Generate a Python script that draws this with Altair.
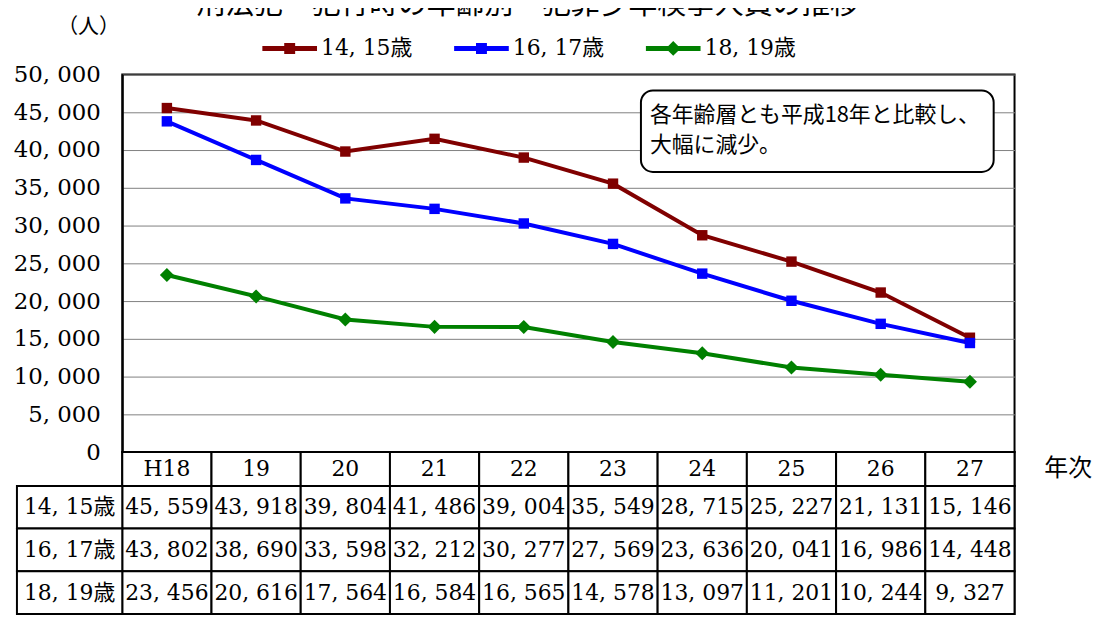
import altair as alt
import pandas as pd

# ---------------- data ----------------
years = ["H18", "19", "20", "21", "22", "23", "24", "25", "26", "27"]
series = ["14, 15歳", "16, 17歳", "18, 19歳"]
v1415 = [45559, 43918, 39804, 41486, 39004, 35549, 28715, 25227, 21131, 15146]
v1617 = [43802, 38690, 33598, 32212, 30277, 27569, 23636, 20041, 16986, 14448]
v1819 = [23456, 20616, 17564, 16584, 16565, 14578, 13097, 11201, 10244, 9327]
colors = ["#800000", "#0000FF", "#008000"]
y_ticks = [0, 5000, 10000, 15000, 20000, 25000, 30000, 35000, 40000, 45000, 50000]

title_text = "刑法犯　犯行時の年齢別　犯罪少年検挙人員の推移"
unit_text = "（人）"
note_text = "各年齢層とも平成18年と比較し、\n大幅に減少。"
xaxis_text = "年次"

SERIF = "DejaVu Serif, Noto Sans CJK JP"
SANS = "Noto Sans CJK JP"

rows = []
for s, vals in zip(series, [v1415, v1617, v1819]):
    for i, (yr, v) in enumerate(zip(years, vals)):
        rows.append(dict(series=s, year=yr, idx=i, value=v,
                         label=f"{v:,}".replace(",", ", ")))
df = pd.DataFrame(rows)
hdf = pd.DataFrame({"year": years, "label": years})

# ---------------- top chart ----------------
xs = alt.Scale(type="point", domain=years, padding=0.5)
ys = alt.Scale(domain=[0, 50000], nice=False)
cs = alt.Scale(domain=series, range=colors)

x_enc = alt.X("year:N", scale=xs,
              axis=alt.Axis(labels=False, ticks=False, title=None, grid=False,
                            domainWidth=3, domainColor="black"))
y_enc = alt.Y("value:Q", scale=ys,
              axis=alt.Axis(values=y_ticks,
                            labelExpr="replace(format(datum.value, ','), ',', ', ')",
                            labelFont="DejaVu Serif", labelFontSize=23,
                            labelColor="black", labelPadding=22,
                            ticks=False, tickSize=0, domainWidth=2,
                            domainColor="black", grid=True,
                            gridColor="#808080", gridWidth=1, title=None))

base = alt.Chart(df).encode(x=x_enc, y=y_enc)

lines = base.mark_line(strokeWidth=4).encode(
    color=alt.Color("series:N", scale=cs, legend=None),
    order=alt.Order("idx:Q"))

squares = base.mark_point(filled=True, opacity=1, shape="square", size=110).encode(
    color=alt.Color("series:N", scale=cs, legend=None)
).transform_filter(alt.datum.series != series[2])

diamonds = base.mark_point(filled=True, opacity=1, shape="diamond", size=200).encode(
    color=alt.Color("series:N", scale=cs, legend=None)
).transform_filter(alt.datum.series == series[2])

sq_path = "M-1,-0.09H1V0.09H-1Z M-0.2,-0.2H0.2V0.2H-0.2Z"
dia_path = "M-1,-0.09H1V0.09H-1Z M0,-0.27L0.27,0L0,0.27L-0.27,0Z"
leg = alt.Legend(orient="none", legendX=141, legendY=-54, direction="horizontal",
                 columns=3, columnPadding=42, labelOffset=4, symbolSize=3025,
                 labelFont=SERIF, labelFontSize=22, labelColor="black",
                 labelLimit=0, title=None, symbolStrokeWidth=0, padding=0)
legend_layer = alt.Chart(pd.DataFrame({"series": series})).mark_point(
    filled=True, opacity=1, size=3025
).encode(
    color=alt.Color("series:N", scale=cs, legend=leg),
    shape=alt.Shape("series:N", scale=alt.Scale(domain=series,
                                               range=[sq_path, sq_path, dia_path]),
                    legend=leg)
).transform_filter("false")

title_layer = alt.Chart(pd.DataFrame({"t": [title_text]})).mark_text(
    font=SANS, fontSize=29, color="black", align="center", baseline="middle"
).encode(text="t:N", x=alt.value(408), y=alt.value(-70))

unit_layer = alt.Chart(pd.DataFrame({"t": [unit_text]})).mark_text(
    font=SANS, fontSize=21, color="black", align="center", baseline="middle"
).encode(text="t:N", x=alt.value(-34), y=alt.value(-48))

note_box = alt.Chart(pd.DataFrame({"a": [0]})).mark_rect(
    fill="white", stroke="black", strokeWidth=2, cornerRadius=12
).encode(x=alt.value(522), x2=alt.value(877), y=alt.value(16), y2=alt.value(98))

note_txt = alt.Chart(pd.DataFrame({"t": [note_text]})).mark_text(
    font=SANS, fontSize=22, color="black", align="left", baseline="middle",
    lineBreak="\n", lineHeight=30
).encode(text="t:N", x=alt.value(531), y=alt.value(41))

top = alt.layer(lines, squares, diamonds, legend_layer, title_layer, unit_layer,
                note_box, note_txt).resolve_scale(
    color="independent", shape="independent"
).properties(width=898, height=380)

# ---------------- table ----------------
tx = alt.Scale(type="band", domain=years, paddingInner=0, paddingOuter=0)
ty = alt.Scale(type="band", domain=series, paddingInner=0, paddingOuter=0)

# header row (years)
h_cells = alt.Chart(hdf).mark_rect(fill="white", stroke="black", strokeWidth=2).encode(
    x=alt.X("year:N", scale=tx, axis=None))
h_text = alt.Chart(hdf).mark_text(font=SERIF, fontSize=22, color="black",
                                  baseline="middle").encode(
    x=alt.X("year:N", scale=tx, axis=None), text="label:N")
year_title = alt.Chart(pd.DataFrame({"t": [xaxis_text]})).mark_text(
    font=SANS, fontSize=24, color="black", align="center", baseline="middle"
).encode(text="t:N", x=alt.value(952), y=alt.value(17))
header = alt.layer(h_cells, h_text, year_title).properties(width=898, height=34)

# body rows
cells = alt.Chart(df).mark_rect(fill="white", stroke="black", strokeWidth=2).encode(
    x=alt.X("year:N", scale=tx, axis=None),
    y=alt.Y("series:N", scale=ty, axis=None))
cell_text = alt.Chart(df).mark_text(font=SERIF, fontSize=22, color="black").encode(
    x=alt.X("year:N", scale=tx, axis=None),
    y=alt.Y("series:N", scale=ty, axis=None),
    text="label:N")
lab_df = pd.DataFrame({"series": series})
label_cells = alt.Chart(lab_df).mark_rect(fill="white", stroke="black", strokeWidth=2).encode(
    x=alt.value(-106), x2=alt.value(0),
    y=alt.Y("series:N", scale=ty, axis=None))
label_text = alt.Chart(lab_df).mark_text(font=SERIF, fontSize=22, color="black").encode(
    x=alt.value(-53), y=alt.Y("series:N", scale=ty, axis=None), text="series:N")
body = alt.layer(cells, cell_text, label_cells, label_text).properties(
    width=898, height=129)

chart = alt.vconcat(top, header, body, spacing=0, bounds="flush").properties(
    padding={"left": 4, "top": -20, "right": 5, "bottom": 0},
    background="white"
).configure_view(stroke="black", strokeWidth=2)

chart.save("out.html", embed_options={"renderer": "svg", "actions": False})
